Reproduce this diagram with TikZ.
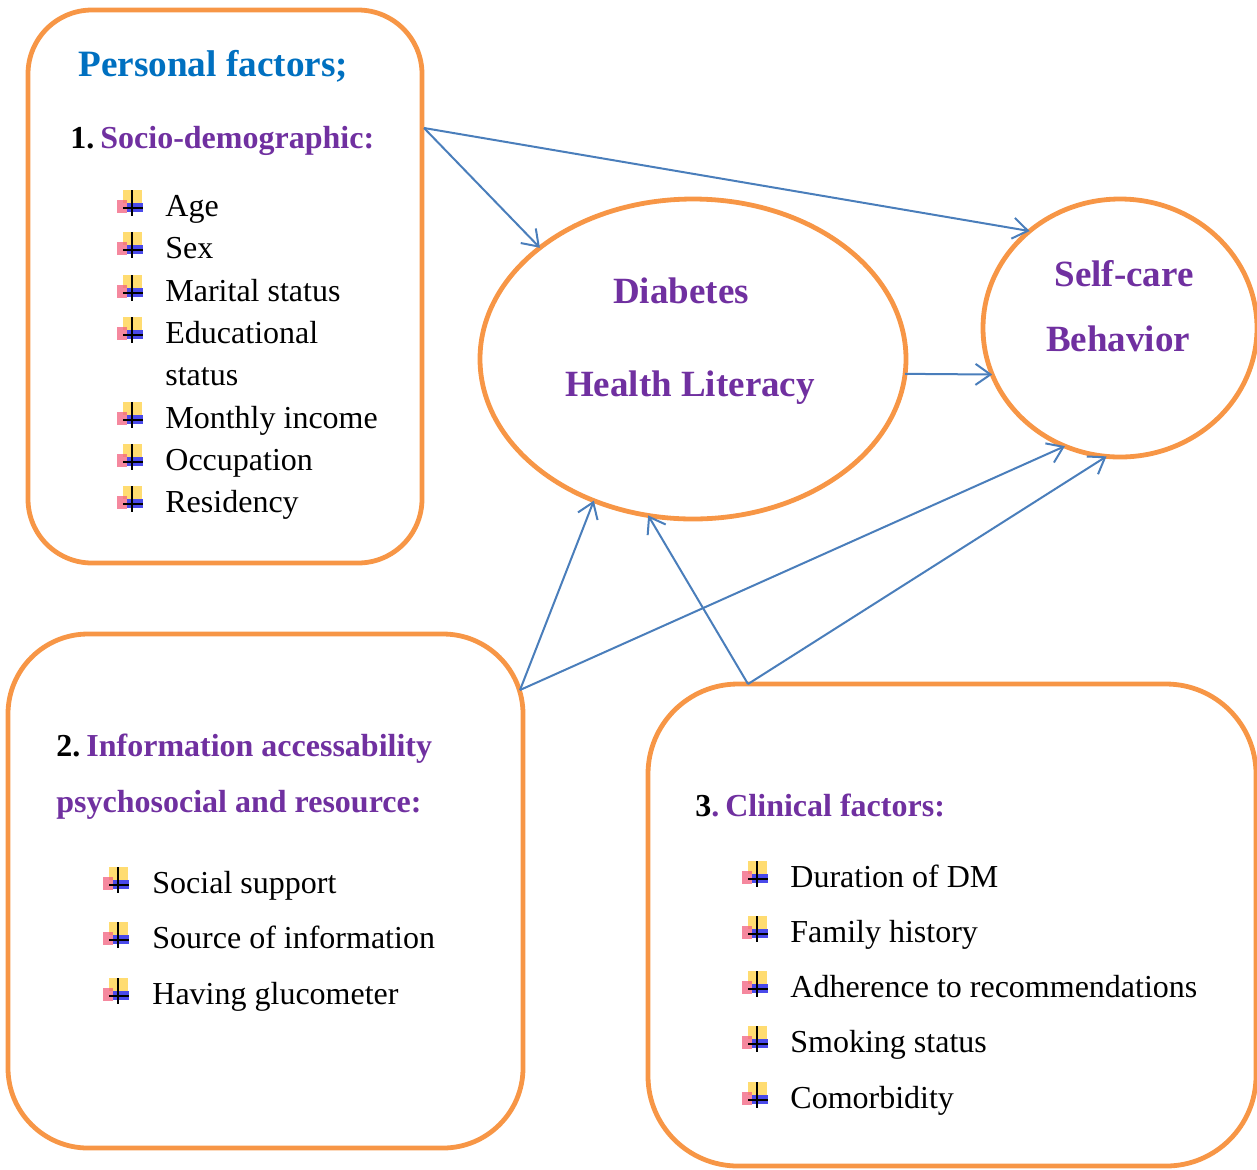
\documentclass[tikz,border=0pt]{standalone}
\usepackage{fontspec}
\setmainfont{Liberation Serif}
\usetikzlibrary{arrows.meta,shapes.geometric}
\definecolor{orng}{HTML}{F79646}
\definecolor{arrowblue}{HTML}{4A7EBB}
\definecolor{purp}{HTML}{7030A0}
\definecolor{headblue}{HTML}{0070C0}
\definecolor{icyellow}{HTML}{FFD34D}
\definecolor{icred}{HTML}{F2607E}
\definecolor{icblue}{HTML}{2A2AE6}
\tikzset{
  bul/.pic={
    \fill[icyellow,opacity=0.8] (-8,-14) rectangle (11,-1);
    \fill[icred,opacity=0.75] (-14,-4) rectangle (-4,9);
    \fill[icblue,opacity=0.85] (-4,-1) rectangle (12,8);
    \draw[black,line width=0.8pt] (1,-14) -- (1,12) (-8,4) -- (12,4);
  }
}
\begin{document}
\begin{tikzpicture}[x=0.5pt,y=-0.5pt,
  box/.style={draw=orng,line width=2.4pt,rectangle,inner sep=0pt,outer sep=0pt},
  oval/.style={draw=orng,line width=2.4pt,ellipse,inner sep=0pt,outer sep=0pt},
  link/.style={draw=arrowblue,line width=1pt,-{Straight Barb[length=7.5pt,width=10.5pt]}},
  txt/.style={anchor=base west,inner sep=0pt,font=\fontsize{16}{19}\selectfont},
  head/.style={anchor=base west,inner sep=0pt,font=\fontsize{16}{19}\selectfont\bfseries,text=purp},
  big/.style={anchor=base,inner sep=0pt,font=\fontsize{18.5}{22}\selectfont\bfseries,text=purp}]
\useasboundingbox (0,0) rectangle (1257,1169);

% boxes
\node[box,rounded corners=32pt,minimum width=197pt,minimum height=276.5pt] (box1) at (225,286.5) {};
\node[box,rounded corners=40pt,minimum width=257.5pt,minimum height=257pt] (box2) at (265.5,891) {};
\node[box,rounded corners=45pt,minimum width=304pt,minimum height=241pt] (box3) at (952,925) {};

% ovals
\node[oval,minimum width=213pt,minimum height=160pt] (dhl) at (693,359) {};
\node[oval,minimum width=137pt,minimum height=129pt] (scb) at (1120,328) {};

\node[big] (d1) at (681,303) {Diabetes};
\node[big] (d2) at (690,396) {Health Literacy};
\node[big] (s1) at (1124,286) {Self-care};
\node[big] (s2) at (1118,351) {Behavior};

% box 1 text
\node[anchor=base west,inner sep=0pt,font=\fontsize{18.6}{22}\selectfont\bfseries,text=headblue] (pf) at (78,76) {Personal factors;};
\node[head] (h1) at (70,148) {\textcolor{black}{1.}\hspace{3pt}Socio-demographic:};
\foreach \y/\t [count=\i] in {216/Age,258/Sex,301/Marital status,343/Educational,428/Monthly income,470/Occupation,512/Residency}{
  \pic at (131,\y-12) {bul};
  \node[txt] (a\i) at (165,\y) {\t};
}
\node[txt] (a8) at (165,385) {status};

% box 2 text
\node[head] (h2) at (56,756) {\textcolor{black}{2.}\hspace{3pt}Information accessability};
\node[head] (h2b) at (56,812) {psychosocial and resource:};
\foreach \y/\t [count=\i] in {893/Social support,948/Source of information,1004/Having glucometer}{
  \pic at (117,\y-12) {bul};
  \node[txt] (b\i) at (152,\y) {\t};
}

% box 3 text
\node[head] (h3) at (695,816) {\textcolor{black}{3}.\hspace{3pt}Clinical factors:};
\foreach \y/\t [count=\i] in {887/Duration of DM,942/Family history,997/Adherence to recommendations,1052/Smoking status,1108/Comorbidity}{
  \pic at (756,\y-12) {bul};
  \node[txt] (c\i) at (790,\y) {\t};
}

% connector start points
\coordinate (p1) at (424,128);
\coordinate (p2) at (520,690);
\coordinate (p3) at (748,684);

% connectors
\draw[link] (p1) -- (dhl.144.6);
\draw[link] (p1) -- (scb.133.4);
\draw[link] (dhl.-4) -- (scb.200);
\draw[link] (p2) -- (dhl.235.2);
\draw[link] (p2) -- (scb.245.1);
\draw[link] (p3) -- (dhl.254.4);
\draw[link] (p3) -- (scb.264.7);
\end{tikzpicture}
\end{document}
